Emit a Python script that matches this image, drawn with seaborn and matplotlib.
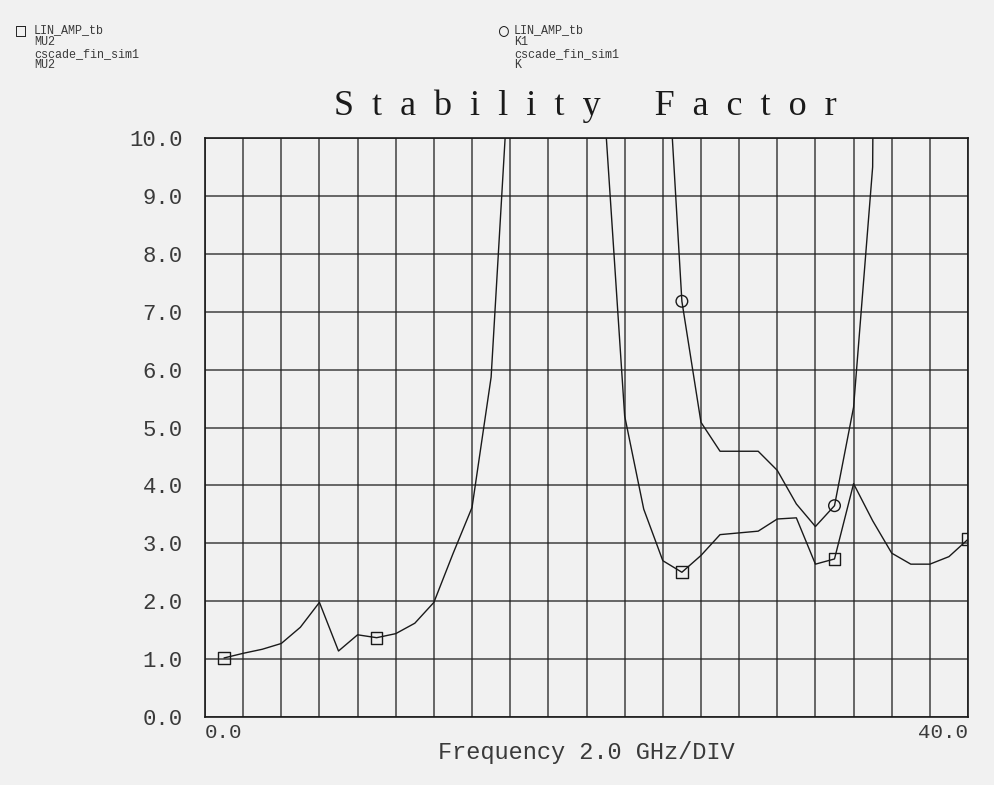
import matplotlib
matplotlib.use("Agg")
import matplotlib.pyplot as plt
import seaborn as sns
import pandas as pd
import numpy as np

# frequency points (GHz), one every 1 GHz
freq = list(range(1, 41))

# MU2 stability factor (values above 10 are off-scale in the plot)
mu2 = [1.02, 1.10, 1.17, 1.27, 1.55, 1.98, 1.14, 1.42, 1.37, 1.44,
       1.62, 1.98, 2.82, 3.62, 5.87, 11.5, 30.0, 60.0, 60.0, 30.0,
       10.2, 5.20, 3.59, 2.70, 2.50, 2.79, 3.15, 3.18, 3.21, 3.42,
       3.44, 2.64, 2.73, 4.03, 3.39, 2.83, 2.64, 2.64, 2.77, 3.07]

# K stability factor
k = [95.0, 80.0, 70.0, 62.0, 55.0, 48.0, 60.0, 52.0, 45.0, 40.0,
     36.0, 33.0, 31.0, 30.0, 35.0, 55.0, 90.0, 70.0, 50.0, 38.0,
     30.0, 22.0, 16.0, 12.8, 7.18, 5.09, 4.59, 4.59, 4.59, 4.26,
     3.68, 3.29, 3.65, 5.35, 9.50, 60.0, 80.0, 90.0, 90.0, 90.0]

# frequencies carrying a marker symbol
mu2_marker_freq = [1, 9, 17, 25, 33, 40]
k_marker_freq = [1, 9, 17, 25, 33]

y_ticks = [0.0, 1.0, 2.0, 3.0, 4.0, 5.0, 6.0, 7.0, 8.0, 9.0, 10.0]
x_tick_vals = [0.0, 40.0]

legend_mu2 = ["LIN_AMP_tb", "MU2", "cscade_fin_sim1", "MU2"]
legend_k = ["LIN_AMP_tb", "K1", "cscade_fin_sim1", "K"]

df = pd.DataFrame({"freq": freq, "MU2": mu2, "K": k})
long_df = df.melt(id_vars="freq", var_name="trace", value_name="value")

sns.set_style("white")
mono = ["Liberation Mono", "DejaVu Sans Mono", "DejaVu Sans"]
plt.rcParams["font.family"] = mono

paper = "#f1f1f1"
ink = "#1a1a1a"
text_ink = "#3a3a3a"

fig = plt.figure(figsize=(9.95, 7.85), dpi=100, facecolor=paper)
ax = fig.add_axes([0.206, 0.0866, 0.7669, 0.7376])
ax.set_facecolor(paper)

sns.lineplot(data=long_df, x="freq", y="value", units="trace", estimator=None,
             color=ink, linewidth=1.0, legend=False, ax=ax, zorder=3)

mu2_pts = df[df["freq"].isin(mu2_marker_freq)]
k_pts = df[df["freq"].isin(k_marker_freq)]
sns.scatterplot(data=mu2_pts, x="freq", y="MU2", marker="s", s=70,
                facecolor="none", edgecolor=ink, linewidth=1.0, ax=ax, zorder=4)
sns.scatterplot(data=k_pts, x="freq", y="K", marker="o", s=70,
                facecolor="none", edgecolor=ink, linewidth=1.0, ax=ax, zorder=4)

ax.set_xlim(0, 40)
ax.set_ylim(0, 10)

# grid: 2 GHz per division, 1.0 per division vertically
ax.set_xticks(np.arange(0, 41, 2), minor=True)
ax.set_xticks(x_tick_vals)
ax.set_xticklabels([f"{v:.1f}" for v in x_tick_vals])
ax.set_yticks(y_ticks)
ax.set_yticklabels([f"{v:.1f}" for v in y_ticks])
ax.grid(True, which="both", color="#222222", linewidth=1.1, alpha=0.85)
ax.tick_params(axis="x", which="both", length=0, pad=4, labelsize=15, labelcolor=text_ink)
ax.tick_params(axis="y", length=4, width=1.0, pad=12, labelsize=16, colors=ink,
               labelcolor=text_ink, direction="out")
labels = ax.get_xticklabels()
labels[0].set_horizontalalignment("left")
labels[-1].set_horizontalalignment("right")
for sp in ax.spines.values():
    sp.set_color(ink)
    sp.set_linewidth(1.2)
ax.set_xlabel("")
ax.set_ylabel("")

# title and axis caption
fig.text(0.588, 1 - 115 / 785, "S  t  a  b  i  l  i  t  y      F  a  c  t  o  r",
         ha="center", va="baseline",
         family=["Liberation Serif", "DejaVu Serif"], fontsize=26, color=ink)
fig.text(0.589, 1 - 753 / 785, "Frequency 2.0 GHz/DIV", ha="center", va="center",
         fontsize=17, color=text_ink)

# header legends: symbol plus a four-line text block
def header(x_sym, x_txt, sym, lines):
    fig.text(x_sym / 995, 1 - 31 / 785, sym, ha="left", va="center",
             family=["DejaVu Sans Mono", "DejaVu Sans"], fontsize=12, color=ink)
    fig.text(x_txt / 995, 1 - 24 / 785, "\n".join(lines), ha="left", va="top",
             family=mono, fontsize=8.5, linespacing=0.98, color=text_ink)

header(16, 34, "\u25a1", legend_mu2)
header(499, 514, "\u25cb", legend_k)

fig.savefig("out.png", dpi=100, facecolor=paper)
